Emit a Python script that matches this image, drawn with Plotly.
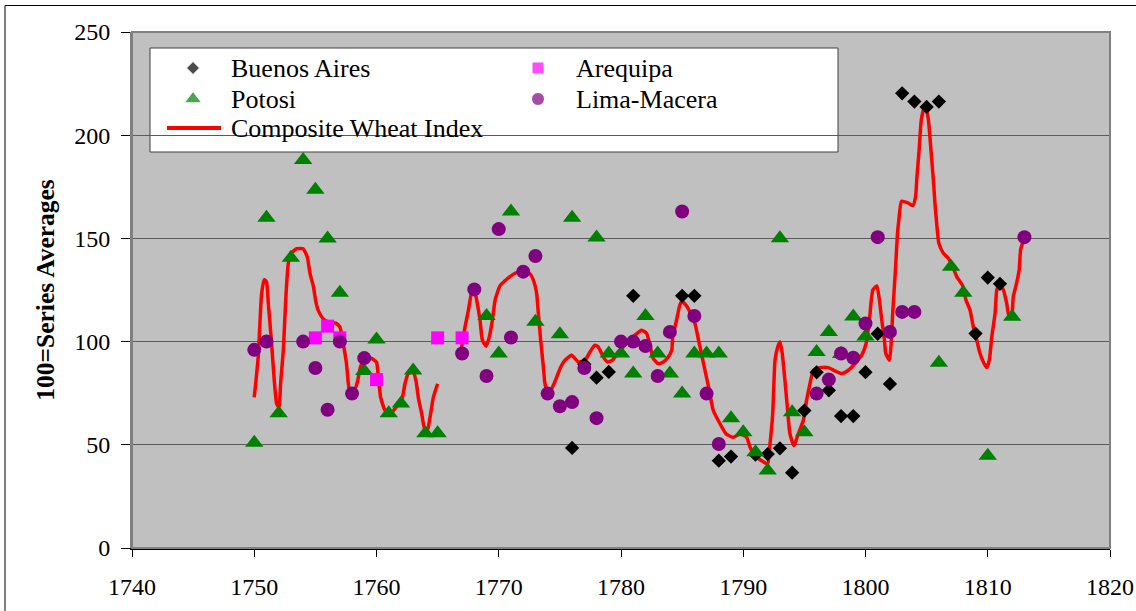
import plotly.graph_objects as go

# ---------------- data ----------------
ba_year = [1776, 1777, 1778, 1779, 1781, 1785, 1786, 1788, 1789, 1791, 1792, 1793, 1794, 1795,
           1796, 1797, 1798, 1799, 1800, 1801, 1802, 1803, 1804, 1805, 1806, 1809, 1810, 1811]
ba_value = [48.5, 89, 82.5, 85.3, 122.2, 122.2, 122.2, 42.3, 44.3, 45.2, 45.5, 48.3, 36.5, 66.6,
            85.1, 76.4, 63.9, 63.9, 85.2, 103.8, 79.5, 220.3, 216.3, 213.7, 216.3, 103.9, 131, 128]

pot_year = [1750, 1751, 1752, 1753, 1754, 1755, 1756, 1757, 1759, 1760, 1761, 1762, 1763, 1764,
            1765, 1769, 1770, 1771, 1773, 1775, 1776, 1778, 1779, 1780, 1781, 1782, 1783, 1784,
            1785, 1786, 1787, 1788, 1789, 1790, 1791, 1792, 1793, 1794, 1795, 1796, 1797, 1798,
            1799, 1800, 1806, 1807, 1808, 1810, 1812]
pot_value = [51, 160, 65.3, 140.6, 188, 173.6, 150, 123.7, 85.8, 101, 65.3, 70, 86, 55.6,
             55.6, 112.4, 94.2, 163, 109.6, 103.6, 160, 150.4, 94.2, 94.2, 84.5, 112.4, 94.2, 84.5,
             74.8, 94.2, 94.2, 94.2, 62.9, 56.1, 46.4, 37.5, 150.1, 65.8, 56.1, 95, 104.7, 94,
             112.2, 102.5, 89.8, 136.3, 123.7, 44.7, 112]

areq_year = [1755, 1756, 1757, 1760, 1765, 1767]
areq_value = [101.8, 107.5, 101.8, 81.6, 101.8, 101.8]

lima_year = [1750, 1751, 1754, 1755, 1756, 1757, 1758, 1759, 1767, 1768, 1769, 1770, 1771, 1772,
             1773, 1774, 1775, 1776, 1777, 1778, 1780, 1781, 1782, 1783, 1784, 1785, 1786, 1787,
             1788, 1796, 1797, 1798, 1799, 1800, 1801, 1802, 1803, 1804, 1813]
lima_value = [96, 100, 100, 87.2, 67, 100, 74.8, 92, 94.2, 125.3, 83.3, 154.5, 102, 133.9,
              141.5, 74.8, 68.7, 70.7, 87.2, 62.9, 100, 100, 97.9, 83.3, 104.7, 163, 112.4, 74.8,
              50.4, 74.8, 81.6, 94.2, 92.2, 108.8, 150.6, 104.7, 114.4, 114.4, 150.6]

# Composite Wheat Index (None = gap)
cwi_year = [1750.0, 1750.14, 1750.33, 1750.6, 1750.82, 1751.0, 1751.15, 1751.42, 1751.64, 1751.83,
            1752.02, 1752.16, 1752.38, 1752.6, 1752.79, 1753.06, 1753.47, 1754.0, 1754.34, 1754.56,
            1754.83, 1755.05, 1755.24, 1755.65, 1756.2, 1756.68, 1757.01, 1757.28, 1757.55, 1757.69,
            1757.83, 1758.16, 1758.46, 1758.7, 1759.06, 1759.6, 1760.0, 1760.15, 1760.34, 1760.7,
            1761.1, 1761.51, 1762.06, 1762.33, 1762.6, 1763.0, 1763.23, 1763.42, 1763.7, 1763.97,
            1764.16, 1764.38, 1764.65, 1765.0,
            1766.0,
            1766.97, 1767.24, 1767.51, 1767.79, 1768.0, 1768.2, 1768.47, 1768.66, 1768.96, 1769.23,
            1769.48, 1769.7, 1770.1, 1770.65, 1771.33, 1772.07, 1772.56, 1772.88, 1773.1, 1773.24,
            1773.43, 1773.65, 1773.78, 1774.0, 1774.33, 1774.74, 1775.01, 1775.42, 1775.96, 1776.51,
            1777.06, 1777.46, 1777.87, 1778.14, 1778.55, 1778.9, 1779.31, 1779.77, 1780.46, 1781.14,
            1781.69, 1782.1, 1782.37, 1782.64, 1783.05, 1783.46, 1783.87, 1784.15, 1784.23, 1784.42,
            1784.6, 1784.8, 1784.96, 1785.37, 1785.64, 1786.05, 1786.4, 1786.87, 1787.22, 1787.55,
            1788.1, 1788.59, 1789.19, 1789.74, 1790.28, 1790.56, 1790.97, 1791.51, 1792.0, 1792.19,
            1792.41, 1792.6, 1792.82, 1793.01, 1793.19, 1793.41, 1793.63, 1793.82, 1794.15, 1794.5,
            1794.91, 1795.18, 1795.46, 1795.73, 1796.28, 1796.96, 1797.51, 1798.05, 1798.6, 1799.14,
            1799.69, 1800.05, 1800.32, 1800.6, 1800.93, 1801.14, 1801.33, 1801.55, 1801.66, 1801.96,
            1802.1, 1802.24, 1802.45, 1802.6, 1802.73, 1802.95, 1803.47, 1803.88, 1804.1, 1804.21,
            1804.37, 1804.57, 1804.8, 1804.95, 1805.14, 1805.33, 1805.55, 1805.68, 1805.82, 1806.0,
            1806.37, 1806.77, 1807.13, 1807.46, 1807.95, 1808.22, 1808.55, 1808.82, 1809.1, 1809.37,
            1809.64, 1809.92, 1810.13, 1810.33, 1810.6, 1810.74, 1810.95, 1811.28, 1811.55, 1811.75,
            1811.95, 1812.09, 1812.36, 1812.57, 1812.69, 1813.0]
cwi_index = [73, 81, 93, 123, 130, 129, 118.5, 99, 81, 70,
             68, 80, 96, 123, 138, 143, 145, 145, 141, 133,
             127, 119, 115, 111, 109, 109, 107, 99, 89, 80,
             75.5, 75.5, 81, 88, 91.3, 91.8, 90, 83, 73, 66.6,
             65, 67.5, 71.5, 79.6, 84.5, 85.3, 81, 73, 65, 57,
             57, 63.4, 73, 79.6,
             None,
             97.4, 107, 115, 124, 125.5, 120, 110.4, 100.7, 97.8, 102.3,
             110.4, 120, 127, 130.2, 133.1, 134.4, 132.8, 129, 123.4, 113.7,
             100.7, 87.7, 79.6, 75.5, 77.2, 82.8, 86.9, 91, 93.4, 90.1,
             91, 95, 98.2, 97.4, 92.6, 90.1, 91, 95, 99.1, 103.1,
             105.5, 103.9, 98.2, 91.8, 89.3, 90.1, 92.6, 95.8, 102.3, 107.2,
             112, 117.5, 119.5, 117.2, 114.4, 108.8, 99.1, 86.1, 76.4, 66.6,
             60.2, 55.3, 53.6, 55.3, 53.6, 48.8, 44.7, 42.3, 40.7, 50.4,
             65, 91, 97.4, 99.9, 94.2, 81.2, 66.6, 55.3, 49.6, 55.3,
             61.8, 71.5, 79.6, 86.1, 87.4, 87.4, 85.8, 84.5, 86.1, 89.3,
             93.4, 99.1, 110.4, 125, 127, 120.1, 110.4, 100.7, 94.2, 91,
             99.1, 115.3, 134.7, 150.9, 159, 168, 167.2, 165.9, 170.4, 180.1,
             191.5, 207.7, 213, 212.9, 207.7, 194.7, 178.5, 167.2, 157.4, 147.7,
             142.8, 140.4, 136.3, 131.5, 127, 120.1, 115.3, 107.2, 100.7, 94.2,
             90.1, 87.4, 91, 102.3, 113.7, 125, 127.4, 125, 118.5, 112,
             112, 121.7, 128.3, 134.7, 144.5, 150.6]

x_ticks = [1740, 1750, 1760, 1770, 1780, 1790, 1800, 1810, 1820]
y_ticks = [0, 50, 100, 150, 200, 250]

# ---------------- figure ----------------
FONT = "Liberation Serif, Times New Roman, serif"
W, H = 1136, 611
L, R, T, B = 132, 26, 32, 63
pw, ph = W - L - R, H - T - B

BA_STYLE = dict(symbol="diamond", size=11, color="#000000")
POT_STYLE = dict(symbol="triangle-up", size=16, color="#008000")
AREQ_STYLE = dict(symbol="square", size=13, color="#FF00FF")
LIMA_STYLE = dict(symbol="circle", size=14, color="#800080")
CWI_COLOR = "#FF0000"

fig = go.Figure()
fig.add_trace(go.Scatter(x=cwi_year, y=cwi_index, mode="lines", name="Composite Wheat Index",
                         line=dict(color=CWI_COLOR, width=3.5, shape="spline", smoothing=0.5),
                         connectgaps=False, showlegend=False))
fig.add_trace(go.Scatter(x=ba_year, y=ba_value, mode="markers", name="Buenos Aires",
                         marker=BA_STYLE, showlegend=False))
fig.add_trace(go.Scatter(x=pot_year, y=pot_value, mode="markers", name="Potosi",
                         marker=POT_STYLE, showlegend=False))
fig.add_trace(go.Scatter(x=areq_year, y=areq_value, mode="markers", name="Arequipa",
                         marker=AREQ_STYLE, showlegend=False))
fig.add_trace(go.Scatter(x=lima_year, y=lima_value, mode="markers", name="Lima-Macera",
                         marker=LIMA_STYLE, showlegend=False))

# ---- legend: two-column boxed key, drawn on a pixel-space overlay axis ----
legend_names = ["Buenos Aires", "Arequipa", "Potosi", "Lima-Macera"]
legend_styles = [BA_STYLE, AREQ_STYLE, POT_STYLE, LIMA_STYLE]
col_key_x = [193, 538, 193, 538]
row_key_y = [68, 68, 99, 99]
text_dx = 36

fig.add_trace(go.Scatter(
    x=col_key_x, y=row_key_y, mode="markers", xaxis="x2", yaxis="y2",
    marker=dict(symbol=[s["symbol"] for s in legend_styles],
                size=[s["size"] - 1 for s in legend_styles],
                color=[s["color"] for s in legend_styles]),
    showlegend=False, hoverinfo="skip", cliponaxis=False))
fig.add_trace(go.Scatter(
    x=[167, 221], y=[128, 128], mode="lines", xaxis="x2", yaxis="y2",
    line=dict(color=CWI_COLOR, width=4), showlegend=False, hoverinfo="skip", cliponaxis=False))

annotations = []
for name, kx, ky in zip(legend_names + ["Composite Wheat Index"],
                        col_key_x + [193], row_key_y + [128]):
    annotations.append(dict(x=kx + text_dx, y=ky, xref="x2", yref="y2", text=name,
                            showarrow=False, xanchor="left", yanchor="middle",
                            font=dict(family=FONT, size=26, color="#000000")))


def px(xp):
    return (xp - L) / pw


def py(yp):
    return (H - B - yp) / ph


shapes = [
    dict(type="rect", xref="paper", yref="paper", x0=px(5), x1=px(1140), y0=py(620), y1=py(5.5),
         line=dict(color="#000000", width=1), fillcolor="rgba(0,0,0,0)", layer="below"),
    dict(type="rect", xref="paper", yref="paper", x0=px(150), x1=px(838), y0=py(152), y1=py(48),
         line=dict(color="#404040", width=1), fillcolor="#FFFFFF", layer="between"),
    dict(type="rect", xref="paper", yref="paper", x0=0, x1=1, y0=0, y1=1,
         line=dict(color="#808080", width=2), fillcolor="rgba(0,0,0,0)", layer="above"),
]

fig.update_layout(
    width=W, height=H,
    margin=dict(l=L, r=R, t=T, b=B, autoexpand=False),
    paper_bgcolor="#FFFFFF",
    plot_bgcolor="#C0C0C0",
    font=dict(family=FONT, color="#000000", size=24),
    shapes=shapes,
    annotations=annotations,
    showlegend=False,
    xaxis=dict(range=[1740, 1820], tickvals=x_ticks, ticktext=[str(v) for v in x_ticks],
               showgrid=False, zeroline=False, showline=True, linecolor="#000000", linewidth=2,
               ticks="outside", ticklen=7, tickcolor="#000000", tickwidth=1,
               tickfont=dict(family=FONT, size=24), ticklabelstandoff=9),
    yaxis=dict(range=[0, 250], tickvals=y_ticks, ticktext=[str(v) for v in y_ticks],
               showgrid=True, gridcolor="#5A5A5A", gridwidth=1, zeroline=False,
               showline=True, linecolor="#808080", linewidth=2,
               ticks="outside", ticklen=9, tickcolor="#000000", tickwidth=1,
               tickfont=dict(family=FONT, size=24), ticklabelstandoff=6,
               title=dict(text="100=Series Averages", standoff=12,
                          font=dict(family=FONT, size=25.5, weight="bold"))),
    xaxis2=dict(overlaying="x", range=[L, W - R], visible=False, fixedrange=True),
    yaxis2=dict(overlaying="y", range=[H - B, T], visible=False, fixedrange=True),
)

fig.write_html("out.html")
